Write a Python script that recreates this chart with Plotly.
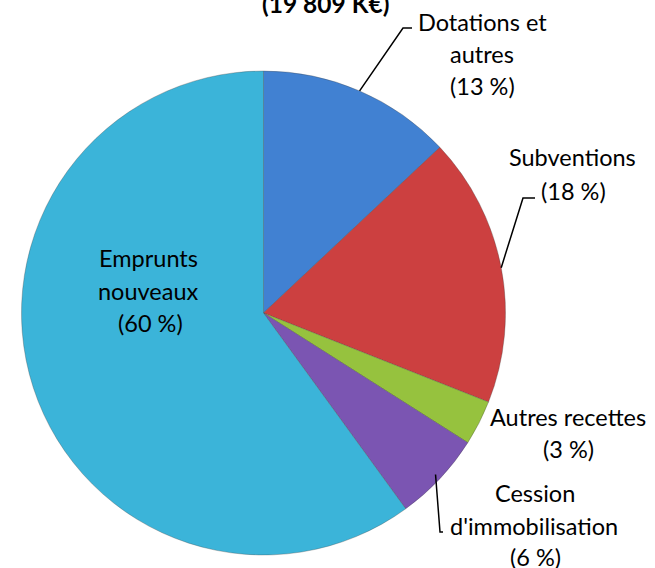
import math
import plotly.graph_objects as go

W, H = 655, 568

labels = ["Dotations et autres", "Subventions", "Autres recettes",
          "Cession d'immobilisation", "Emprunts nouveaux"]
values = [13, 18, 3, 6, 60]
colors = ["#4181d2", "#cc4040", "#96c23e", "#7b55b2", "#3bb4d9"]
title_text = "(19 809 K€)"

# label lines (text, x_px, y_px)
label_lines = [
    [("Dotations et", 482, 22), ("autres", 482, 54), ("(13 %)", 482, 86)],
    [("Subventions", 572, 157), ("(18 %)", 573, 191)],
    [("Autres recettes", 568, 417), ("(3 %)", 568, 449)],
    [("Cession", 535, 493), ("d'immobilisation", 534, 526), ("(6 %)", 535, 557)],
    [("Emprunts", 148, 258), ("nouveaux", 148, 291), ("(60 %)", 150, 323)],
]

# pie geometry in pixels
cx, cy, r = 263.5, 313, 242

def px(x):
    return x / W

def py(y):
    return 1 - y / H

fig = go.Figure(go.Pie(
    labels=labels, values=values, sort=False, direction="clockwise",
    rotation=0, marker=dict(colors=colors, line=dict(color="rgba(60,60,60,0.3)", width=1)),
    textinfo="none", hoverinfo="label+percent", showlegend=False,
    domain=dict(x=[px(cx - r), px(cx + r)], y=[py(cy + r), py(cy - r)]),
))

font = dict(family="Lato, Open Sans, sans-serif", size=23.5, color="#000000")
annotations = []
for lines in label_lines:
    for t, x, y in lines:
        annotations.append(dict(text=t, x=px(x), y=py(y), xref="paper", yref="paper",
                                showarrow=False, xanchor="center", yanchor="middle", font=font))
annotations.append(dict(text="<b>" + title_text + "</b>", x=px(325), y=py(3), xref="paper", yref="paper",
                        showarrow=False, xanchor="center", yanchor="middle",
                        font=dict(family="Lato, Open Sans, sans-serif", size=24.5, color="#000000")))

# leader lines from slice mid-angles
total = sum(values)
cum = 0
mids = []
for v in values:
    mids.append((cum + v / 2) / total * 360)
    cum += v

def edge(i, inset=0):
    a = math.radians(mids[i])
    return cx + (r - inset) * math.sin(a), cy - (r - inset) * math.cos(a)

leaders = {
    0: [(403, 28), (412, 28)],
    1: [(523, 198), (535, 198)],
    3: [(440, 532), (443, 532)],
}
shapes = []
for i, pts in leaders.items():
    x0, y0 = edge(i, inset=6 if i == 3 else 0)
    path = "M {} {}".format(px(x0), py(y0))
    for x, y in pts:
        path += " L {} {}".format(px(x), py(y))
    shapes.append(dict(type="path", path=path, xref="paper", yref="paper",
                       line=dict(color="#000000", width=1.5)))

fig.update_layout(width=W, height=H, margin=dict(l=0, r=0, t=0, b=0),
                  paper_bgcolor="white", plot_bgcolor="white",
                  annotations=annotations, shapes=shapes)
fig.write_html("out.html", config={"displayModeBar": False},
               post_script="document.body.style.margin='0';document.body.style.overflow='hidden';")
